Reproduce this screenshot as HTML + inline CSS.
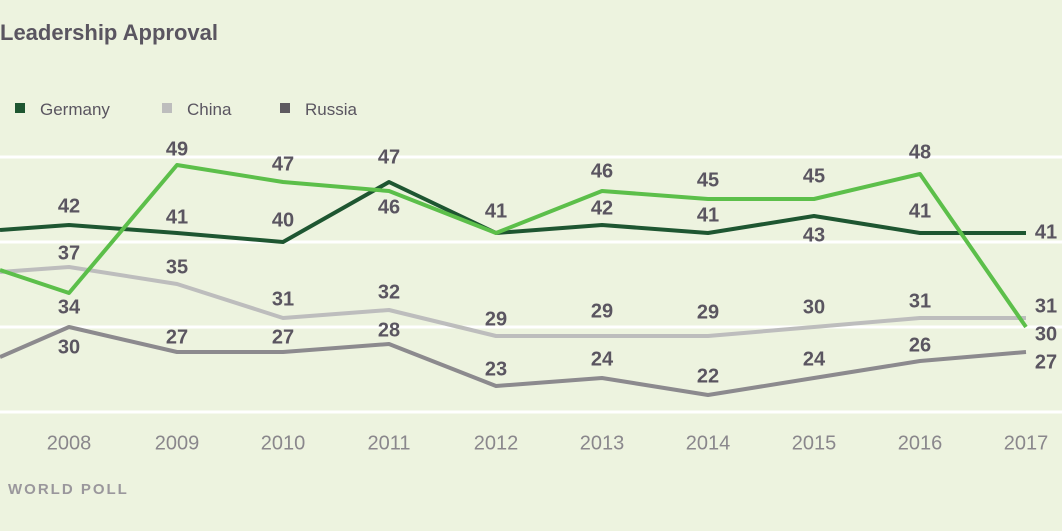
<!DOCTYPE html><html><head><style>body{margin:0;background:#edf3df}svg{display:block}</style></head><body>
<svg width="1062" height="531" viewBox="0 0 1062 531" font-family="Liberation Sans, sans-serif">
<rect width="1062" height="531" fill="#edf3df"/>
<text x="0" y="40" font-size="22" font-weight="bold" fill="#5a5560">Leadership Approval</text>
<rect x="15" y="103" width="10" height="10" fill="#1e5631"/><text x="40" y="115" font-size="17" fill="#5a5560">Germany</text>
<rect x="162" y="103" width="10" height="10" fill="#bdbdbd"/><text x="187" y="115" font-size="17" fill="#5a5560">China</text>
<rect x="280" y="103" width="10" height="10" fill="#5e5a60"/><text x="305" y="115" font-size="17" fill="#5a5560">Russia</text>
<g stroke="#fff" stroke-width="3"><line x1="0" y1="157" x2="1062" y2="157"/><line x1="0" y1="242" x2="1062" y2="242"/><line x1="0" y1="327" x2="1062" y2="327"/><line x1="0" y1="412" x2="1062" y2="412"/></g>
<g fill="none" stroke-width="4" stroke-linejoin="round">
<polyline stroke="#8c8a8e" points="0,357 69,327 177,352 283,352 389,344 496,386 602,378 708,395 814,378 920,361 1026,352"/>
<polyline stroke="#bdbdbd" points="0,272 69,267 177,284 283,318 389,310 496,336 602,336 708,336 814,327 920,318 1026,318"/>
<polyline stroke="#1e5631" points="0,230 69,225 177,233 283,242 389,182 496,233 602,225 708,233 814,216 920,233 1026,233"/>
<polyline stroke="#5cbf4a" points="0,270 69,293 177,165 283,182 389,191 496,233 602,191 708,199 814,199 920,174 1026,327"/>
</g>
<g font-size="20" font-weight="bold" fill="#5a5560" text-anchor="middle" dominant-baseline="middle">
<text x="69" y="207">42</text><text x="177" y="150">49</text><text x="283" y="165">47</text><text x="389" y="158">47</text><text x="496" y="212">41</text><text x="602" y="172">46</text><text x="708" y="181">45</text><text x="814" y="177">45</text><text x="920" y="153">48</text><text x="1046" y="233">41</text>
<text x="177" y="218">41</text><text x="283" y="221">40</text><text x="389" y="208">46</text><text x="602" y="209">42</text><text x="708" y="216">41</text><text x="814" y="236">43</text><text x="920" y="212">41</text>
<text x="69" y="254">37</text><text x="177" y="268">35</text><text x="283" y="300">31</text><text x="389" y="293">32</text><text x="496" y="320">29</text><text x="602" y="312">29</text><text x="708" y="313">29</text><text x="814" y="308">30</text><text x="920" y="302">31</text><text x="1046" y="307">31</text>
<text x="69" y="308">34</text><text x="1046" y="335">30</text>
<text x="69" y="348">30</text><text x="177" y="338">27</text><text x="283" y="338">27</text><text x="389" y="331">28</text><text x="496" y="370">23</text><text x="602" y="360">24</text><text x="708" y="377">22</text><text x="814" y="360">24</text><text x="920" y="346">26</text><text x="1046" y="363">27</text>
</g>
<g font-size="20" fill="#8a878c" text-anchor="middle" dominant-baseline="middle">
<text x="69" y="444">2008</text><text x="177" y="444">2009</text><text x="283" y="444">2010</text><text x="389" y="444">2011</text><text x="496" y="444">2012</text><text x="602" y="444">2013</text><text x="708" y="444">2014</text><text x="814" y="444">2015</text><text x="920" y="444">2016</text><text x="1026" y="444">2017</text>
</g>
<text x="8" y="494" font-size="15" font-weight="bold" fill="#9a979c" letter-spacing="2">WORLD POLL</text>
</svg></body></html>
